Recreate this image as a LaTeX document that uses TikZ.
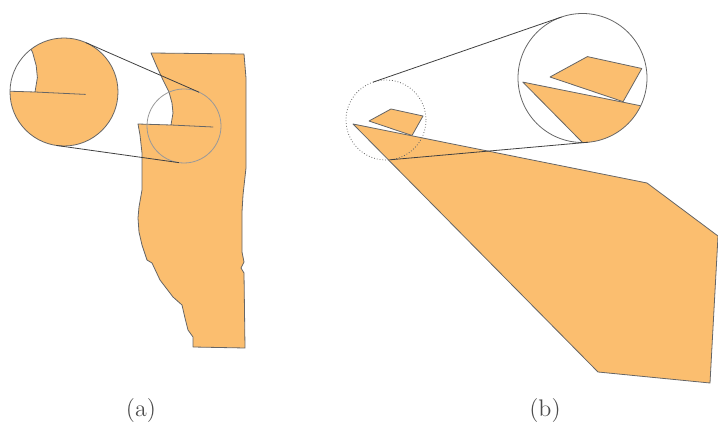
\documentclass[tikz,border=0pt]{standalone}
\usepackage{tikz}
\usetikzlibrary{positioning}
\definecolor{regionfill}{RGB}{251,190,111}
\tikzset{
  region/.style={fill=regionfill, draw=black!60, line width=0.4pt, line join=round},
  lens/.style={circle, draw=black!60, line width=0.4pt, inner sep=0pt, outer sep=0pt},
  tangent/.style={draw=black!75, line width=0.4pt},
  caption/.style={font=\large, text=black!70},
}
% outlines, in pixel units of the figure
\newcommand{\regionA}{(151,53) -- (244,54) -- (246,78) -- (246,168) -- (243,195) -- (242,212)
  -- (242,252) -- (244,262) -- (241,268) -- (244,273) -- (245,348) -- (193,347) -- (193,337)
  -- (188,330) -- (185,318) -- (182,305) -- (173,297) -- (160,280) -- (152,263) -- (147,260)
  -- (142,245) -- (139,232) -- (138,218) -- (139,207) -- (142,190) -- (142,153) -- (140,135)
  -- (138,124) -- (171,125) -- (213,127) -- (171,125) -- (173,113) -- (172,103) -- (169,92)
  -- (163,80) -- (157,67) -- cycle}
\newcommand{\regionB}{(353,124) -- (647,183) -- (718,236) -- (710,383) -- (598,372) -- cycle}
\newcommand{\pieceB}{(369,121) -- (391,109) -- (423,116) -- (412,135.5) -- cycle}

\begin{document}
\begin{tikzpicture}[x=0.5pt, y=-0.5pt]
\useasboundingbox (0,0) rectangle (718,427);

% (a)
\filldraw[region] \regionA;
\node[lens, draw=black!40, minimum size=37pt] (smallA) at (184,126) {};
\begin{scope}
  \clip (64,92) circle[radius=54];
  \begin{scope}[shift={(35,92)}, scale=1.2, shift={(-171,-125)}]
    \filldraw[region] \regionA;
  \end{scope}
\end{scope}
\node[lens, minimum size=54pt] (bigA) at (64,92) {};
\draw[tangent] (bigA.66.4) -- (smallA.66.4);
\draw[tangent] (bigA.-98) -- (smallA.-98);

% (b)
\filldraw[region] \regionB;
\filldraw[region] \pieceB;
\node[lens, densely dotted, minimum size=40pt] (smallB) at (386,120) {};
\begin{scope}
  \clip (582.5,78) circle[radius=64.5];
  \begin{scope}[shift={(550,77)}, scale=1.7, shift={(-369,-121)}]
    \filldraw[region] \regionB;
    \filldraw[region] \pieceB;
  \end{scope}
\end{scope}
\node[lens, minimum size=64.5pt] (bigB) at (582.5,78) {};
\draw[tangent] (smallB.109) -- (bigB.109);
\draw[tangent] (smallB.-85) -- (bigB.-85);

\node[caption] (capA) at (141,411) {(a)};
\node[caption] (capB) at (545,411) {(b)};
\end{tikzpicture}
\end{document}
